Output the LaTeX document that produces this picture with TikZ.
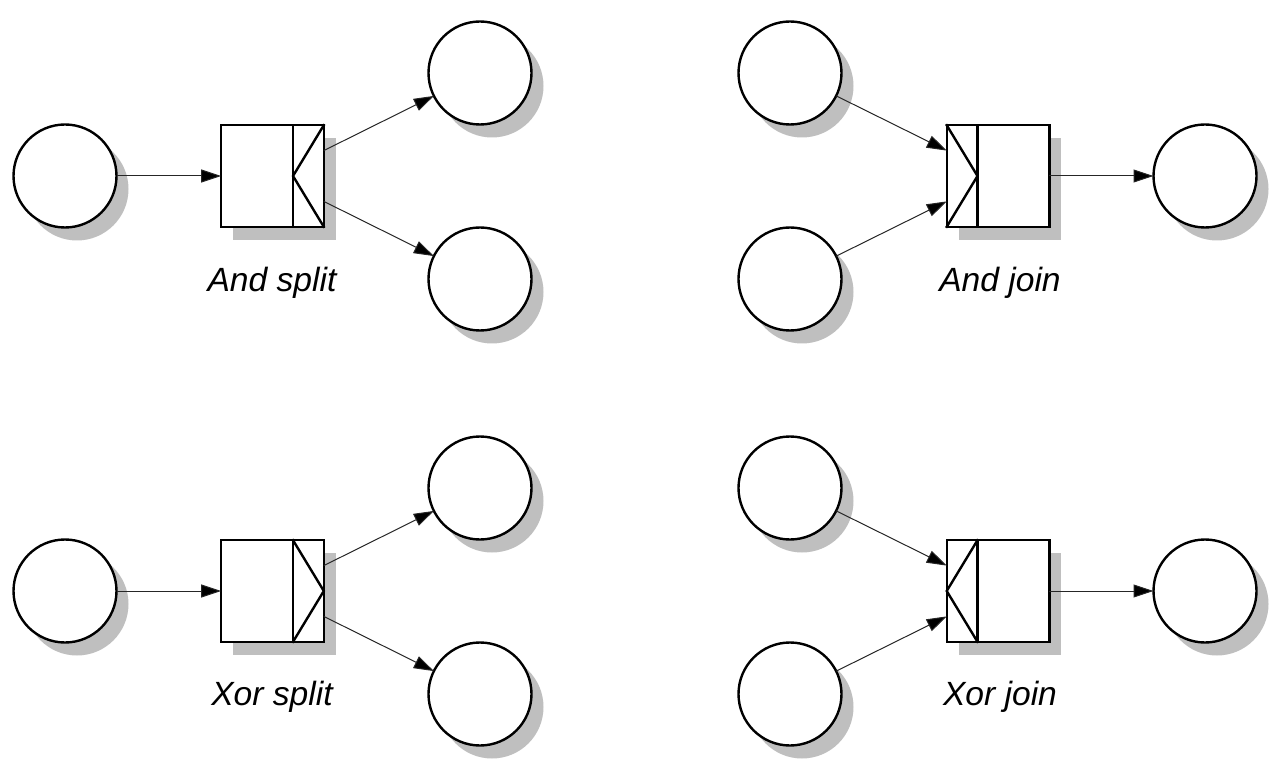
\documentclass[tikz,border=0pt]{standalone}
\usepackage{fontspec}
\setmainfont{Liberation Sans}
\usetikzlibrary{arrows.meta,shadows,calc}
\begin{document}
\begin{tikzpicture}[x=1pt,y=-1pt,
  shad/.style={drop shadow={shadow xshift=12pt,shadow yshift=-13pt,fill=black!25,opacity=1}},
  place/.style={circle,draw,line width=2.4pt,fill=white,minimum size=103pt,inner sep=0pt,outer sep=0pt,shad},
  task/.style={rectangle,draw,line width=2.4pt,fill=white,minimum width=102.6pt,minimum height=101.6pt,inner sep=0pt,outer sep=0pt,shad},
  glyph/.style={line width=2.4pt,line join=miter,line cap=rect},
  conn/.style={line width=1pt,draw=black!85,-{Triangle[length=20pt,width=13pt,fill=black]}},
  lbl/.style={font=\itshape\fontsize{33.6}{40}\selectfont,anchor=base}]
\useasboundingbox (0,0) rectangle (1279,775);

% ---------- And split ----------
\node[place] (asL) at (65,176) {};
\node[place] (asT) at (480,73) {};
\node[place] (asB) at (480,279) {};
\node[task] (asX) at (272.5,176) {};
\coordinate (asD1) at ($(asX.north west)!0.7!(asX.north east)$);
\coordinate (asD2) at ($(asX.south west)!0.7!(asX.south east)$);
\coordinate (asV) at ($(asD1)!0.5!(asD2)$);
\draw[glyph] (asD1) -- (asD2);
\draw[glyph] (asX.north east) -- (asV) -- (asX.south east);
\coordinate (asO1) at ($(asX.north east)!0.25!(asX.south east)$);
\coordinate (asO2) at ($(asX.north east)!0.75!(asX.south east)$);
\draw[conn] (asL) -- (asX.west);
\draw[conn] (asO1) -- (asT);
\draw[conn] (asO2) -- (asB);
\node[lbl] (asLab) at (272,292) {And split};

% ---------- And join ----------
\node[place] (ajT) at (790,73) {};
\node[place] (ajB) at (790,279) {};
\node[place] (ajR) at (1205,176) {};
\node[task] (ajX) at (998,176) {};
\coordinate (ajD1) at ($(ajX.north west)!0.3!(ajX.north east)$);
\coordinate (ajD2) at ($(ajX.south west)!0.3!(ajX.south east)$);
\coordinate (ajV) at ($(ajD1)!0.5!(ajD2)$);
\draw[glyph] (ajD1) -- (ajD2);
\draw[glyph] (ajX.north west) -- (ajV) -- (ajX.south west);
\coordinate (ajI1) at ($(ajX.north west)!0.25!(ajX.south west)$);
\coordinate (ajI2) at ($(ajX.north west)!0.75!(ajX.south west)$);
\draw[conn] (ajT) -- (ajI1);
\draw[conn] (ajB) -- (ajI2);
\draw[conn] (ajX.east) -- (ajR);
\node[lbl] (ajLab) at (1000,292) {And join};

% ---------- Xor split ----------
\node[place] (xsL) at (65,591) {};
\node[place] (xsT) at (480,488) {};
\node[place] (xsB) at (480,694) {};
\node[task] (xsX) at (272.5,591) {};
\coordinate (xsD1) at ($(xsX.north west)!0.7!(xsX.north east)$);
\coordinate (xsD2) at ($(xsX.south west)!0.7!(xsX.south east)$);
\draw[glyph] (xsD1) -- (xsD2);
\draw[glyph] (xsD1) -- (xsX.east) -- (xsD2);
\coordinate (xsO1) at ($(xsX.north east)!0.25!(xsX.south east)$);
\coordinate (xsO2) at ($(xsX.north east)!0.75!(xsX.south east)$);
\draw[conn] (xsL) -- (xsX.west);
\draw[conn] (xsO1) -- (xsT);
\draw[conn] (xsO2) -- (xsB);
\node[lbl] (xsLab) at (272,705) {Xor split};

% ---------- Xor join ----------
\node[place] (xjT) at (790,488) {};
\node[place] (xjB) at (790,694) {};
\node[place] (xjR) at (1205,591) {};
\node[task] (xjX) at (998,591) {};
\coordinate (xjD1) at ($(xjX.north west)!0.3!(xjX.north east)$);
\coordinate (xjD2) at ($(xjX.south west)!0.3!(xjX.south east)$);
\draw[glyph] (xjD1) -- (xjD2);
\draw[glyph] (xjD1) -- (xjX.west) -- (xjD2);
\coordinate (xjI1) at ($(xjX.north west)!0.25!(xjX.south west)$);
\coordinate (xjI2) at ($(xjX.north west)!0.75!(xjX.south west)$);
\draw[conn] (xjT) -- (xjI1);
\draw[conn] (xjB) -- (xjI2);
\draw[conn] (xjX.east) -- (xjR);
\node[lbl] (xjLab) at (1000,705) {Xor join};
\end{tikzpicture}
\end{document}
